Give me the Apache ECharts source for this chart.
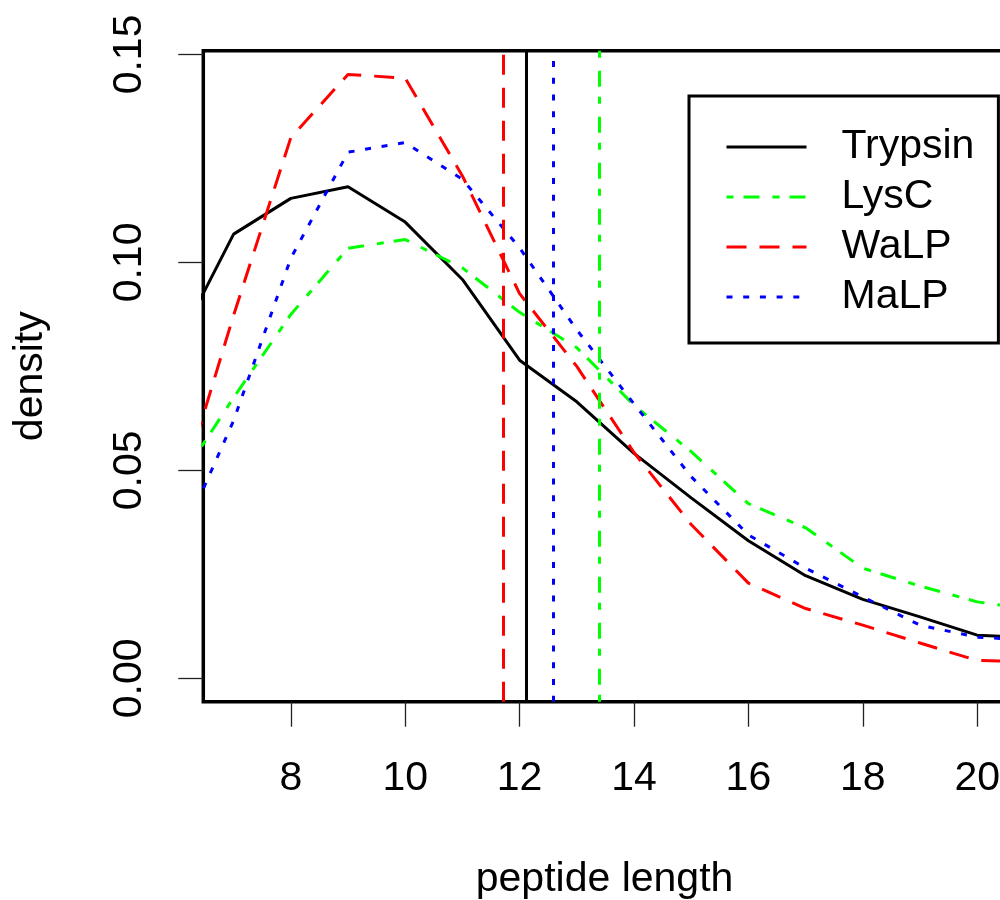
<!DOCTYPE html>
<html>
<head>
<meta charset="utf-8">
<script src="https://cdn.jsdelivr.net/npm/echarts@6/dist/echarts.min.js"></script>
<style>
html,body{margin:0;padding:0;background:#fff;}
#chart{width:1000px;height:900px;}
</style>
</head>
<body>
<div id="chart"></div>
<script>
// ---- data ----
const lengths = [6, 7, 8, 9, 10, 11, 12, 13, 14, 15, 16, 17, 18, 19, 20, 21];
const trypsin = [0.080, 0.1068, 0.1154, 0.1182, 0.1097, 0.0959, 0.0765, 0.0665, 0.0541, 0.0434, 0.0331, 0.0247, 0.0190, 0.0148, 0.0104, 0.0097];
const lysC    = [0.0465, 0.0675, 0.0875, 0.1034, 0.1055, 0.0987, 0.0880, 0.0795, 0.0657, 0.0545, 0.0420, 0.0362, 0.0265, 0.0222, 0.0184, 0.0165];
const waLP    = [0.042, 0.0873, 0.1300, 0.1452, 0.1443, 0.1208, 0.0925, 0.0750, 0.0543, 0.0370, 0.0229, 0.0168, 0.0128, 0.0085, 0.0043, 0.0040];
const maLP    = [0.031, 0.0620, 0.1010, 0.1265, 0.1288, 0.1200, 0.1035, 0.0838, 0.0660, 0.0485, 0.0345, 0.0265, 0.0196, 0.0128, 0.0099, 0.0092];
const seriesNames = ['Trypsin', 'LysC', 'WaLP', 'MaLP'];
const meanLengths = [12.11, 13.405, 11.715, 12.58];
const xTicks = [8, 10, 12, 14, 16, 18, 20];
const yTicks = [0.00, 0.05, 0.10, 0.15];

// ---- styles ----
const colors = ['#000000', '#00ff00', '#ff0000', '#0000ff'];
const dashes = ['solid', [7, 10, 16, 13], [20, 13], [6, 10.7]];
const values = [trypsin, lysC, waLP, maLP];
const FONT = '"Liberation Sans", Arial, Helvetica, sans-serif';

const chart = echarts.init(document.getElementById('chart'), null, {renderer: 'canvas'});

const series = seriesNames.map((name, i) => ({
  name: name,
  type: 'line',
  data: lengths.map((x, j) => [x, values[i][j]]),
  symbol: 'none',
  showSymbol: false,
  smooth: false,
  clip: true,
  lineStyle: {color: colors[i], width: 3, type: dashes[i]},
  itemStyle: {color: colors[i]},
  emphasis: {disabled: true},
  markLine: {
    silent: true,
    symbol: 'none',
    animation: false,
    label: {show: false},
    lineStyle: {color: colors[i], width: 3, type: dashes[i]},
    data: [{xAxis: meanLengths[i]}]
  }
}));

chart.setOption({
  animation: false,
  backgroundColor: '#ffffff',
  textStyle: {fontFamily: FONT},
  grid: {
    left: 203.3, top: 50.7, width: 802.5, height: 651,
    show: true, borderColor: '#000', borderWidth: 3.5, backgroundColor: 'transparent',
    containLabel: false,
    outerBoundsMode: 'none'
  },
  legend: {
    orient: 'vertical',
    left: 689, top: 96,
    data: seriesNames,
    itemWidth: 80, itemHeight: 20, itemGap: 2,
    padding: [27, 24, 22, 36],
    borderColor: '#000', borderWidth: 3,
    backgroundColor: '#fff',
    itemStyle: {opacity: 0},
    lineStyle: {width: 3},
    selectedMode: false,
    textStyle: {fontFamily: FONT, fontSize: 41, color: '#000', lineHeight: 44, padding: [4, 0, 0, 30]}
  },
  xAxis: {
    type: 'value',
    min: 6.47, max: 20.5,
    name: 'peptide length',
    nameLocation: 'middle',
    nameGap: 157,
    nameTextStyle: {fontFamily: FONT, fontSize: 41, color: '#000'},
    axisLine: {show: false, onZero: false},
    splitLine: {show: false},
    axisTick: {show: true, inside: false, length: 25, customValues: xTicks, lineStyle: {color: '#222', width: 1.3}},
    axisLabel: {show: true, customValues: xTicks, margin: 56, fontFamily: FONT, fontSize: 41, color: '#000'}
  },
  yAxis: {
    type: 'value',
    min: -0.0056, max: 0.1509,
    name: 'density',
    nameLocation: 'middle',
    nameGap: 152,
    nameRotate: 90,
    nameTextStyle: {fontFamily: FONT, fontSize: 41, color: '#000'},
    axisLine: {show: false, onZero: false},
    splitLine: {show: false},
    axisTick: {show: true, inside: false, length: 25, customValues: yTicks, lineStyle: {color: '#222', width: 1.3}},
    axisLabel: {show: true, customValues: yTicks, rotate: 90, margin: 53, fontFamily: FONT, fontSize: 41, color: '#000',
      formatter: v => v.toFixed(2)}
  },
  series: series
});
</script>
</body>
</html>
